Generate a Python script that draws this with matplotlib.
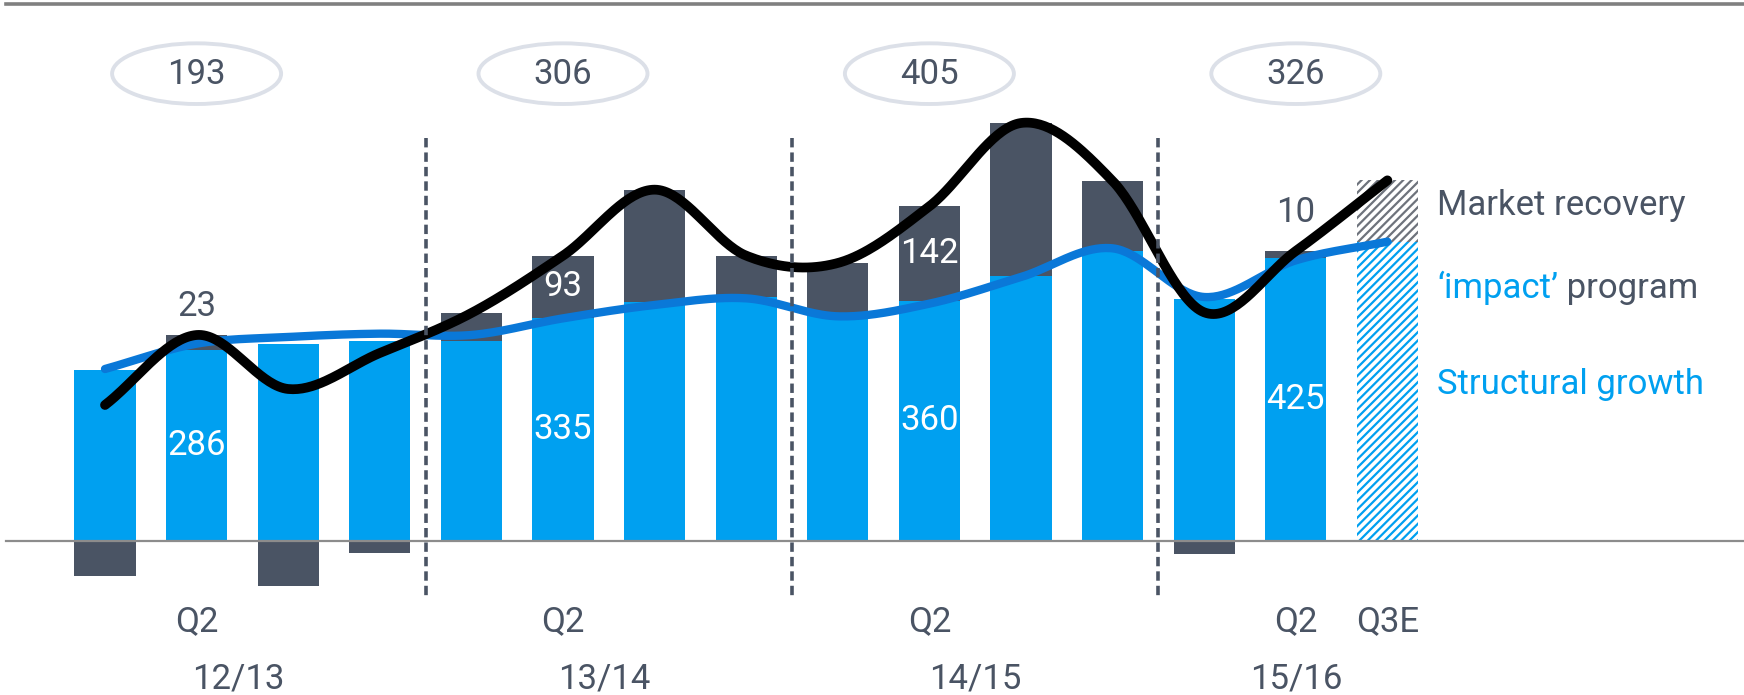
import matplotlib
matplotlib.use('Agg')
import matplotlib.pyplot as plt
from matplotlib.patches import Ellipse
import numpy as np

plt.rcParams['font.family'] = ['Roboto', 'DejaVu Sans']
plt.rcParams['hatch.linewidth'] = 1.6

# quarterly EBIT bridge, Q1 12/13 .. Q3E 15/16 (last bar is the estimate)
structural = [256, 286, 296, 300, 300, 335, 359, 366, 342, 360, 398, 435, 363, 425, 449]
market = [-52, 23, -68, -18, 42, 93, 168, 62, 75, 142, 229, 105, -20, 10, 92]
impact_line = [258, 296, 306, 311, 309, 334, 354, 364, 337, 356, 396, 439, 366, 421, 449]

fy_totals = ['193', '306', '405', '326']
fy_pos = [1, 5, 9, 13]
quarter_labels = ['Q2', 'Q2', 'Q2', 'Q2', 'Q3E']
quarter_pos = [1, 5, 9, 13, 14]
year_labels = ['12/13', '13/14', '14/15', '15/16']
year_pos = [1.45, 5.45, 9.5, 13]
divider_pos = [3.5, 7.5, 11.5]

BLUE = '#00A0F0'
DARK = '#4A5464'
LINE_BLUE = '#0A78D8'
FS = 25


def smooth(xs, ys, n=40):
    # catmull-rom curve through the points (like a smoothed office chart line)
    p = np.column_stack([xs, ys]).astype(float)
    m = np.zeros_like(p)
    m[1:-1] = (p[2:] - p[:-2]) / 2
    m[0] = p[1] - p[0]
    m[-1] = p[-1] - p[-2]
    out = []
    t = np.linspace(0, 1, n)[:, None]
    for i in range(len(p) - 1):
        h00 = 2 * t**3 - 3 * t**2 + 1
        h10 = t**3 - 2 * t**2 + t
        h01 = -2 * t**3 + 3 * t**2
        h11 = t**3 - t**2
        out.append(h00 * p[i] + h10 * m[i] + h01 * p[i + 1] + h11 * m[i + 1])
    out = np.vstack(out)
    return out[:, 0], out[:, 1]


fig = plt.figure(figsize=(17.44, 6.95), dpi=100)
ax = fig.add_axes([0, 0, 1, 1])
ax.set_xlim(-105 / 91.6, (1744 - 105) / 91.6)
ax.set_ylim(-231, 811.5)
ax.axis('off')

x = np.arange(len(structural))
width = 0.67
actual = x[:-1]

# actual quarters
ax.bar(actual, structural[:-1], width, color=BLUE, zorder=1)
pos_market = [max(v, 0) for v in market[:-1]]
neg_market = [min(v, 0) for v in market[:-1]]
ax.bar(actual, pos_market, width, bottom=structural[:-1], color=DARK, zorder=1)
ax.bar(actual, neg_market, width, color=DARK, zorder=1)

# estimate, hatched
ax.bar(x[-1], structural[-1], width, facecolor='white', edgecolor=BLUE,
       hatch='////', linewidth=0, zorder=1)
ax.bar(x[-1], market[-1], width, bottom=structural[-1], facecolor='white',
       edgecolor='#6E737C', hatch='////', linewidth=0, zorder=1)

# zero line and top rule
ax.plot([-1.08, 20], [0, 0], color='#8C8C8C', lw=1.6, zorder=2)
ax.plot([-1.08, 20], [805, 805], color='#808080', lw=2.6, zorder=2)

# lines
sx, sy = smooth(x, impact_line)
ax.plot(sx, sy, color=LINE_BLUE, lw=6, solid_capstyle='round', zorder=3)
totals = [s + m for s, m in zip(structural, market)]
tx, ty = smooth(x, totals)
ax.plot(tx, ty, color='black', lw=7, solid_capstyle='round', zorder=4)

# fiscal year dividers
for d in divider_pos:
    ax.plot([d, d], [605, -88], color=DARK, lw=2.6,
            linestyle=(0, (2.6, 1.4)), zorder=5)

# value labels of the Q2 bars
for i in quarter_pos[:-1]:
    ax.text(i, structural[i] / 2, str(structural[i]), color='white',
            fontsize=FS, ha='center', va='center', zorder=6)
    m = market[i]
    if m > 50:
        ax.text(i, structural[i] + m / 2, str(m), color='white',
                fontsize=FS, ha='center', va='center', zorder=6)
    else:
        gap = 42 if i == 1 else 57
        ax.text(i, structural[i] + m + gap, str(m), color=DARK,
                fontsize=FS, ha='center', va='center', zorder=6)

# fiscal year totals in ellipses
for p, lab in zip(fy_pos, fy_totals):
    ax.add_patch(Ellipse((p, 701), 1.845, 91, facecolor='none',
                         edgecolor='#DCE0E8', lw=2.8, zorder=6))
    ax.text(p, 699, lab, color=DARK, fontsize=FS, ha='center', va='center')

# axis labels
for p, lab in zip(quarter_pos, quarter_labels):
    ax.text(p, -121, lab, color=DARK, fontsize=FS, ha='center', va='center')
for p, lab in zip(year_pos, year_labels):
    ax.text(p, -207, lab, color=DARK, fontsize=FS, ha='center', va='center')

# legend as text
lx = (1437 - 105) / 91.6
ax.text(lx, 489, 'Market recovery', color=DARK, fontsize=FS, va='baseline')
t1 = ax.text(lx, 354, '\u2018impact\u2019', color=BLUE, fontsize=FS, va='bottom')
ax.annotate(' program', xy=(1, 0), xycoords=t1, color=DARK, fontsize=FS,
            va='bottom', ha='left')
ax.text(lx, 220, 'Structural growth', color=BLUE, fontsize=FS, va='baseline')

fig.savefig('out.png', dpi=100)
